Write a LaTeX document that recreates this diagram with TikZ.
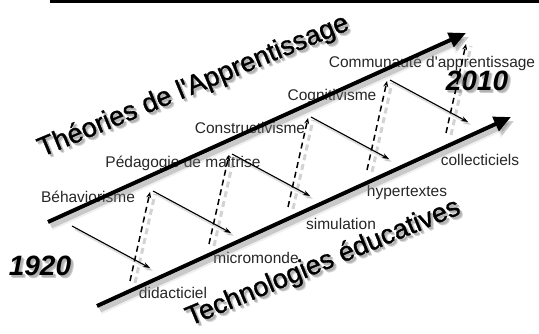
\documentclass[tikz,border=0pt]{standalone}
\usepackage{fontspec}
\setmainfont{Liberation Sans}
\newfontfamily\arialx{Liberation Sans}
\newfontfamily\arialfb{Liberation Sans}[FakeBold=1.3]
\usetikzlibrary{arrows.meta,calc}
\begin{document}
\begin{tikzpicture}[x=1pt,y=-1pt,
  lbl/.style={font=\arialx\fontsize{15.5}{18}\selectfont, text=black!85, inner sep=0pt},
  bigtxt/.style={font=\arialfb\fontsize{27}{30}\selectfont, inner sep=0pt, anchor=base west, rotate=22.5},
  yeartxt/.style={font=\arialx\fontsize{28}{32}\selectfont\bfseries\itshape, inner sep=0pt},
  bigarrow/.style={line width=4pt, -{Triangle[length=17pt,width=15pt]}},
  bigshadowA/.style={line width=9pt, draw=gray, opacity=0.12, -{Triangle[length=19pt,width=19pt]}},
  bigshadowB/.style={line width=5pt, draw=gray, opacity=0.35, -{Triangle[length=17pt,width=15pt]}},
  thinarrow/.style={line width=1.1pt, -{Stealth[length=7pt,width=5pt]}},
  thinshadow/.style={line width=2.5pt, draw=gray, opacity=0.25, -{Stealth[length=8pt,width=6pt]}},
  dasharrow/.style={line width=1.5pt, dash pattern=on 6pt off 4pt, -{Stealth[length=6pt,width=5pt]}},
  dashshadow/.style={line width=3pt, draw=gray, opacity=0.35, dash pattern=on 6pt off 4pt},
]
\path[use as bounding box] (0,0) rectangle (539,334);

% top bar
\coordinate (barL) at (50,1.5);
\coordinate (barR) at (539,1.5);
\draw[line width=3pt] (barL) -- (barR);

% labels
\node[lbl] (beh) at (88,197) {Béhaviorisme};
\node[lbl] (ped) at (183,163) {Pédagogie de maîtrise};
\node[lbl] (con) at (250,128) {Constructivisme};
\node[lbl] (cog) at (332,96) {Cognitivisme};
\node[lbl] (com) at (432,63) {Communauté d'apprentissage};
\node[lbl] (col) at (480,160) {collecticiels};
\node[lbl] (hyp) at (407,192) {hypertextes};
\node[lbl] (sim) at (341,224) {simulation};
\node[lbl] (mic) at (256,258) {micromonde};
\node[lbl] (did) at (173,293) {didacticiel};

% big rotated titles with shadow
\node[bigtxt, text=gray!35] (thS2) at (45,160) {Théories de l'Apprentissage};
\node[bigtxt, text=gray!60] (thS) at (44,159) {Théories de l'Apprentissage};
\node[bigtxt] (th) at (42,157) {Théories de l'Apprentissage};
\node[bigtxt, text=gray!35] (teS2) at (193,329) {Technologies éducatives};
\node[bigtxt, text=gray!60] (teS) at (192,328) {Technologies éducatives};
\node[bigtxt] (te) at (190,326) {Technologies éducatives};

% years
\node[yeartxt, text=gray!40] (y1S2) at (43,269) {1920};
\node[yeartxt, text=gray!60] (y1S) at (42,268) {1920};
\node[yeartxt] (y1) at (40,266) {1920};
\node[yeartxt, text=gray!40] (y2S2) at (480,84) {2010};
\node[yeartxt, text=gray!60] (y2S) at (479,83) {2010};
\node[yeartxt] (y2) at (477,81) {2010};

% main arrows
\coordinate (uA) at (48,222);  \coordinate (uB) at (466,33);
\coordinate (lA) at (97,306);  \coordinate (lB) at (511,117);

% thin arrows: starts and ends
\coordinate (s1a) at (72,226);  \coordinate (s1b) at (150,268);
\coordinate (s2a) at (153,191); \coordinate (s2b) at (231,233);
\coordinate (s3a) at (232,154); \coordinate (s3b) at (310,196);
\coordinate (s4a) at (311,117); \coordinate (s4b) at (389,159);
\coordinate (s5a) at (390,80);  \coordinate (s5b) at (468,122);

% dashed verticals: bottom and top
\coordinate (d1a) at (130,281); \coordinate (d1b) at (150,192);
\coordinate (d2a) at (209,244); \coordinate (d2b) at (229,155);
\coordinate (d3a) at (288,207); \coordinate (d3b) at (308,118);
\coordinate (d4a) at (367,170); \coordinate (d4b) at (387,81);
\coordinate (d5a) at (446,133); \coordinate (d5b) at (466,44);

% shadows
\foreach \p/\q in {uA/uB,lA/lB}{
  \draw[bigshadowA] ($(\p)+(3,4)$) -- ($(\q)+(3,4)$);
  \draw[bigshadowB] ($(\p)+(3,4)$) -- ($(\q)+(3,4)$);
}
\foreach \i in {1,...,5}{
  \draw[dashshadow] ($(d\i a)+(5,2)$) -- ($(d\i b)+(5,2)$);
  \draw[thinshadow] ($(s\i a)+(3,3)$) -- ($(s\i b)+(3,3)$);
}

% lines
\draw[bigarrow] (uA) -- (uB);
\draw[bigarrow] (lA) -- (lB);
\foreach \i in {1,...,5}{
  \draw[thinarrow] (s\i a) -- (s\i b);
  \draw[dasharrow] (d\i a) -- (d\i b);
}
\end{tikzpicture}
\end{document}
